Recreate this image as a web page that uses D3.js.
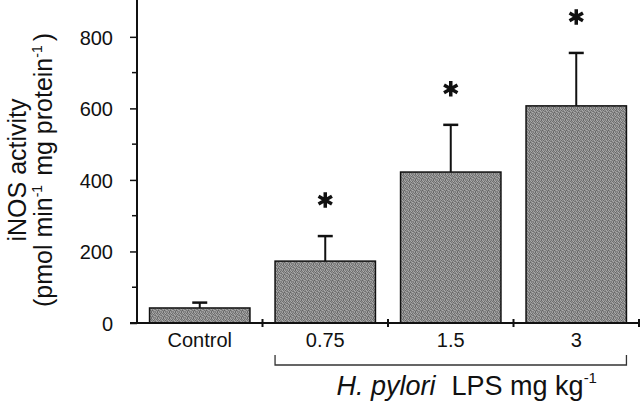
<!DOCTYPE html>
<html>
<head>
<meta charset="utf-8">
<script src="https://cdn.jsdelivr.net/npm/d3@7"></script>
<style>
  body { margin: 0; background: #fff; }
  text { font-family: "Liberation Sans", Arial, sans-serif; fill: #111; }
</style>
</head>
<body>
<div id="chart"></div>
<script>
var categories = ["Control", "0.75", "1.5", "3"];
var means = [42, 173, 422, 607];
var sems = [15, 70, 132, 148];
var significant = [false, true, true, true];
var yTicks = [0, 200, 400, 600, 800];
var yMinorTicks = [100, 300, 500, 700];

var margin = { top: 0, right: 0, bottom: 79, left: 137 };
var width = 640 - margin.left - margin.right;
var height = 402 - margin.top - margin.bottom;

var svg = d3.select("#chart")
    .append("svg")
    .attr("width", 640)
    .attr("height", 402);

// stippled grey fill, like the printed halftone
var grain = [
    [0x7a, 0x9c, 0x66, 0xa8, 0x84, 0x95],
    [0xa2, 0x70, 0x8e, 0x78, 0xb0, 0x6c],
    [0x88, 0xac, 0x74, 0x9a, 0x68, 0x92],
    [0x6e, 0x90, 0xa6, 0x80, 0x9e, 0x7c],
    [0x9a, 0x76, 0x8a, 0x64, 0x8c, 0xaa],
    [0x82, 0xa4, 0x6a, 0x9e, 0x7a, 0x86]
];
var pat = svg.append("defs").append("pattern")
    .attr("id", "stipple")
    .attr("width", 6)
    .attr("height", 6)
    .attr("patternUnits", "userSpaceOnUse");
grain.forEach(function(row, r) {
    row.forEach(function(v, c) {
        pat.append("rect")
            .attr("x", c).attr("y", r)
            .attr("width", 1).attr("height", 1)
            .attr("fill", d3.rgb(v, v, v));
    });
});

var g = svg.append("g")
    .attr("transform", "translate(" + margin.left + "," + margin.top + ")");

var x = d3.scaleBand()
    .domain(categories)
    .range([0, width - 1])
    .paddingInner(0.2)
    .paddingOuter(0.1);

var y = d3.scaleLinear()
    .domain([0, 903])
    .range([height, 0]);

// bars
g.selectAll(".bar")
    .data(categories)
    .enter().append("rect")
    .attr("class", "bar")
    .attr("x", function(d) { return x(d); })
    .attr("width", x.bandwidth())
    .attr("y", function(d, i) { return y(means[i]); })
    .attr("height", function(d, i) { return height - y(means[i]); })
    .attr("fill", "url(#stipple)")
    .attr("stroke", "#111")
    .attr("stroke-width", 1.5);

// error bars
var errs = g.selectAll(".err")
    .data(categories)
    .enter().append("g")
    .attr("class", "err");
errs.append("line")
    .attr("x1", function(d) { return x(d) + x.bandwidth() / 2; })
    .attr("x2", function(d) { return x(d) + x.bandwidth() / 2; })
    .attr("y1", function(d, i) { return y(means[i]); })
    .attr("y2", function(d, i) { return y(means[i] + sems[i]); })
    .attr("stroke", "#111")
    .attr("stroke-width", 2);
errs.append("line")
    .attr("x1", function(d) { return x(d) + x.bandwidth() / 2 - 7.5; })
    .attr("x2", function(d) { return x(d) + x.bandwidth() / 2 + 7.5; })
    .attr("y1", function(d, i) { return y(means[i] + sems[i]); })
    .attr("y2", function(d, i) { return y(means[i] + sems[i]); })
    .attr("stroke", "#111")
    .attr("stroke-width", 2.5);

// significance stars
var star = d3.symbol().type(d3.symbolAsterisk).size(170);
g.selectAll(".star")
    .data(categories.filter(function(d, i) { return significant[i]; }))
    .enter().append("path")
    .attr("class", "star")
    .attr("d", star)
    .attr("transform", function(d) {
        var i = categories.indexOf(d);
        return "translate(" + (x(d) + x.bandwidth() / 2) + "," + (y(means[i] + sems[i]) - 36) + ")";
    })
    .attr("fill", "none")
    .attr("stroke", "#111")
    .attr("stroke-width", 3.5);

// y axis
var yAxis = g.append("g")
    .call(d3.axisLeft(y).tickValues(yTicks).tickSize(7).tickPadding(17));
yAxis.select(".domain").remove();
yAxis.selectAll("text").style("font-size", "20px").attr("dy", "0.36em");
yAxis.selectAll("line").attr("stroke", "#111").attr("stroke-width", 1.5);
g.selectAll(".minor")
    .data(yMinorTicks)
    .enter().append("line")
    .attr("x1", -5).attr("x2", 0)
    .attr("y1", function(d) { return y(d); })
    .attr("y2", function(d) { return y(d); })
    .attr("stroke", "#111")
    .attr("stroke-width", 1.5);
g.append("line")
    .attr("x1", 0).attr("x2", 0)
    .attr("y1", 0).attr("y2", height)
    .attr("stroke", "#111")
    .attr("stroke-width", 2);

// x axis
g.append("line")
    .attr("x1", -7).attr("x2", width)
    .attr("y1", height).attr("y2", height)
    .attr("stroke", "#111")
    .attr("stroke-width", 2);
var step = x.step();
var bounds = categories.map(function(d) { return x(d) - x.paddingInner() * step / 2; })
    .concat([x(categories[categories.length - 1]) + x.bandwidth() + x.paddingInner() * step / 2]);
g.selectAll(".xtick")
    .data(bounds.slice(1))
    .enter().append("line")
    .attr("x1", function(d) { return d; })
    .attr("x2", function(d) { return d; })
    .attr("y1", height - 4).attr("y2", height + 4)
    .attr("stroke", "#111")
    .attr("stroke-width", 2);
g.selectAll(".xlabel")
    .data(categories)
    .enter().append("text")
    .attr("x", function(d) { return x(d) + x.bandwidth() / 2; })
    .attr("y", height + 24)
    .attr("text-anchor", "middle")
    .style("font-size", "20px")
    .text(function(d) { return d; });

// bracket under treated groups
var bx1 = x(categories[1]);
var bx2 = x(categories[3]) + x.bandwidth();
g.append("path")
    .attr("d", "M" + bx1 + "," + (height + 32) + "V" + (height + 42) + "H" + bx2 + "V" + (height + 32))
    .attr("fill", "none")
    .attr("stroke", "#333")
    .attr("stroke-width", 1.3);

var xTitle = g.append("text")
    .attr("x", (bx1 + bx2) / 2 + 16)
    .attr("y", height + 72)
    .attr("text-anchor", "middle")
    .style("font-size", "27px");
xTitle.append("tspan").style("font-style", "italic").text("H. pylori");
xTitle.append("tspan").attr("dx", 16).text("LPS mg kg");
xTitle.append("tspan").attr("dy", -12).style("font-size", "15px").text("-1");

// y axis title
var yTitle = svg.append("g")
    .attr("transform", "translate(0," + 170 + ") rotate(-90)");
yTitle.append("text")
    .attr("x", 0).attr("y", 26)
    .attr("text-anchor", "middle")
    .style("font-size", "25px")
    .text("iNOS activity");
var t2 = yTitle.append("text")
    .attr("x", 0).attr("y", 52)
    .attr("text-anchor", "middle")
    .style("font-size", "25px");
t2.append("tspan").text("(pmol min");
t2.append("tspan").attr("dy", -10).style("font-size", "14px").text("-1");
t2.append("tspan").attr("dy", 10).attr("dx", 9).text("mg protein");
t2.append("tspan").attr("dy", -10).style("font-size", "14px").text("-1");
t2.append("tspan").attr("dy", 10).attr("dx", 4).text(")");
</script>
</body>
</html>
